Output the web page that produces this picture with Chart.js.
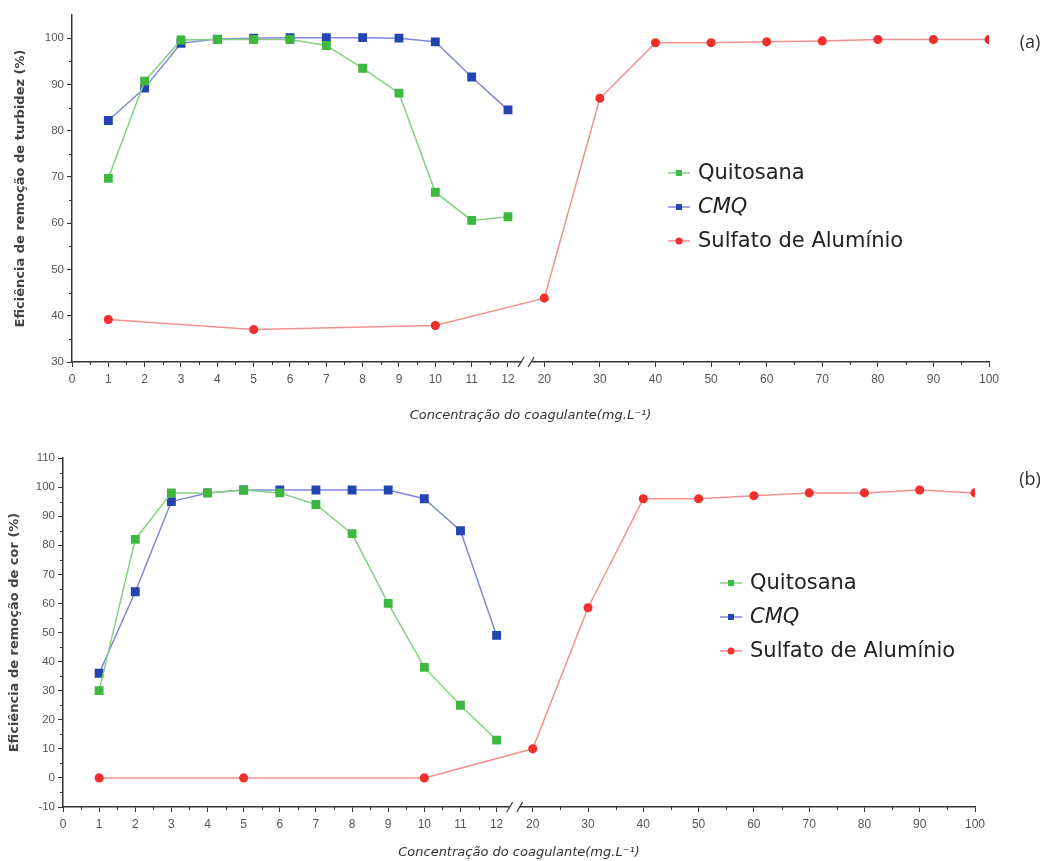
<!DOCTYPE html>
<html>
<head>
<meta charset="utf-8">
<script src="https://cdn.jsdelivr.net/npm/chart.js@4.4.1/dist/chart.umd.min.js"></script>
<style>
  body { margin: 0; background: #fff; }
  .panel { position: relative; width: 1047px; }
</style>
</head>
<body>
<div class="panel" style="height:430px"><canvas id="chart_a"></canvas></div>
<div class="panel" style="height:431px"><canvas id="chart_b"></canvas></div>
<script>
// doses (mg/L)
const doseCoag = [1, 2, 3, 4, 5, 6, 7, 8, 9, 10, 11, 12];
const doseSulfato = [1, 5, 10, 20, 30, 40, 50, 60, 70, 80, 90, 100];
const xTickLabels = [0, 1, 2, 3, 4, 5, 6, 7, 8, 9, 10, 11, 12, 20, 30, 40, 50, 60, 70, 80, 90, 100];

// (a) turbidez
const turbQuitosana = [69.7, 90.7, 99.6, 99.7, 99.7, 99.7, 98.4, 93.5, 88.1, 66.7, 60.6, 61.4];
const turbCMQ = [82.2, 89.2, 98.9, 99.8, 100, 100.1, 100.1, 100.1, 100, 99.2, 91.6, 84.5];
const turbSulfato = [39.2, 37.0, 37.9, 43.8, 87.0, 99.0, 99.0, 99.2, 99.4, 99.7, 99.7, 99.7];
const turbYTicks = [30, 40, 50, 60, 70, 80, 90, 100];

// (b) cor
const corQuitosana = [30, 82, 98, 98, 99, 98, 94, 84, 60, 38, 25, 13];
const corCMQ = [36, 64, 95, 98, 99, 99, 99, 99, 99, 96, 85, 49];
const corSulfato = [0, 0, 0, 10, 58.5, 96, 96, 97, 98, 98, 99, 98];
const corYTicks = [-10, 0, 10, 20, 30, 40, 50, 60, 70, 80, 90, 100, 110];

const seriesNames = ['Quitosana', 'CMQ', 'Sulfato de Alumínio'];

// broken x axis: 0-12 linear, then 20-100 compressed
const RIGHT_UNIT = 1.53;
function toAxis(x) {
  return x <= 12 ? x : 13 + (x - 20) / 10 * RIGHT_UNIT;
}

const GREEN = '#3fb83f', GREEN_L = '#86d086';
const BLUE = '#2444b0', BLUE_L = '#8288d8';
const RED = '#f0302c', RED_L = '#f39090';

function pts(xs, ys) {
  return xs.map((x, i) => ({ x: toAxis(x), y: ys[i] }));
}

const decorPlugin = {
  id: 'decor',
  afterDraw(chart, args, opts) {
    const ctx = chart.ctx;
    const xs = chart.scales.x, ys = chart.scales.y;
    const area = chart.chartArea;
    ctx.save();
    ctx.strokeStyle = '#333';
    ctx.lineWidth = 1;
    // minor ticks
    const minor = [];
    for (let v = 0.5; v < 12; v += 1) minor.push(v);
    for (let v = 25; v < 100; v += 10) minor.push(v);
    ctx.beginPath();
    minor.forEach(v => {
      const px = Math.round(xs.getPixelForValue(toAxis(v))) + 0.5;
      ctx.moveTo(px, area.bottom);
      ctx.lineTo(px, area.bottom + 3);
    });
    for (let v = opts.yMin + 5; v < opts.yMax; v += 10) {
      const py = Math.round(ys.getPixelForValue(v)) + 0.5;
      ctx.moveTo(area.left, py);
      ctx.lineTo(area.left - 3, py);
    }
    ctx.stroke();
    // axis break
    const bx = xs.getPixelForValue(12.5);
    const by = area.bottom;
    ctx.fillStyle = '#fff';
    ctx.fillRect(bx - 5, by - 2, 10, 4);
    ctx.lineWidth = 1.2;
    ctx.beginPath();
    ctx.moveTo(bx - 8, by + 5); ctx.lineTo(bx - 2, by - 5);
    ctx.moveTo(bx + 2, by + 5); ctx.lineTo(bx + 8, by - 5);
    ctx.stroke();
    // panel label
    ctx.fillStyle = '#333';
    ctx.font = '18px "Open Sans", sans-serif';
    ctx.textAlign = 'center';
    ctx.textBaseline = 'middle';
    ctx.fillText(opts.label, opts.labelX, opts.labelY);
    // legend
    ctx.textAlign = 'left';
    chart.data.datasets.forEach((ds, i) => {
      const ly = opts.legendY + i * 34;
      const lx = opts.legendX;
      ctx.strokeStyle = ds.borderColor;
      ctx.lineWidth = 1.5;
      ctx.beginPath();
      ctx.moveTo(lx, ly); ctx.lineTo(lx + 22, ly);
      ctx.stroke();
      ctx.fillStyle = ds.pointBackgroundColor;
      if (ds.pointStyle === 'rect') ctx.fillRect(lx + 8, ly - 3, 6, 6);
      else { ctx.beginPath(); ctx.arc(lx + 11, ly, 3.5, 0, Math.PI * 2); ctx.fill(); }
      ctx.fillStyle = '#222';
      ctx.font = (ds.label === 'CMQ' ? 'italic ' : '') + '21px "DejaVu Sans", sans-serif';
      ctx.fillText(ds.label, lx + 30, ly + 1);
    });
    ctx.restore();
  }
};

function makeChart(id, cfg) {
  const ctx = document.getElementById(id).getContext('2d');
  return new Chart(ctx, {
    type: 'line',
    data: {
      datasets: [
        { label: seriesNames[0], data: pts(doseCoag, cfg.quitosana), borderColor: GREEN_L, pointBackgroundColor: GREEN,
          pointBorderColor: GREEN, pointStyle: 'rect', pointRadius: 5.2, borderWidth: 1.5 },
        { label: seriesNames[1], data: pts(doseCoag, cfg.cmq), borderColor: BLUE_L, pointBackgroundColor: BLUE,
          pointBorderColor: BLUE, pointStyle: 'rect', pointRadius: 5.2, borderWidth: 1.5 },
        { label: seriesNames[2], data: pts(doseSulfato, cfg.sulfato), borderColor: RED_L, pointBackgroundColor: RED,
          pointBorderColor: RED, pointStyle: 'circle', pointRadius: 3.8, borderWidth: 1.5 }
      ]
    },
    options: {
      responsive: true,
      maintainAspectRatio: false,
      animation: false,
      layout: { padding: cfg.padding },
      plugins: {
        legend: { display: false },
        tooltip: { enabled: false },
        decor: cfg.decor
      },
      scales: {
        x: {
          type: 'linear',
          min: 0,
          max: toAxis(100),
          afterBuildTicks: s => { s.ticks = xTickLabels.map(v => ({ value: toAxis(v) })); },
          afterFit: s => { s.height = cfg.xHeight; },
          grid: { drawOnChartArea: false, tickLength: 5, color: '#333' },
          border: { color: '#333', width: 1.5 },
          ticks: {
            autoSkip: false, maxRotation: 0, padding: 5, color: '#555',
            font: { family: 'Liberation Sans', size: 12 },
            callback: (v, i) => xTickLabels[i]
          },
          title: {
            display: true,
            text: 'Concentração do coagulante(mg.L⁻¹)',
            color: '#333',
            padding: { top: 0, bottom: cfg.xTitlePad },
            font: { family: 'DejaVu Sans', size: 13, style: 'italic' }
          }
        },
        y: {
          min: cfg.yMin,
          max: cfg.yMax,
          afterBuildTicks: s => { s.ticks = cfg.yTicks.map(v => ({ value: v })); },
          afterFit: s => { s.width = cfg.yWidth; },
          grid: { drawOnChartArea: false, tickLength: 5, color: '#333' },
          border: { color: '#333', width: 1.5 },
          ticks: { padding: 3, color: '#555', font: { family: 'Liberation Sans', size: 11.5 } },
          title: {
            display: true,
            text: cfg.yTitle,
            color: '#444',
            padding: 0,
            font: { family: 'DejaVu Sans', size: 13, weight: 'bold' }
          }
        }
      }
    },
    plugins: [decorPlugin]
  });
}

makeChart('chart_a', {
  quitosana: turbQuitosana, cmq: turbCMQ, sulfato: turbSulfato,
  yMin: 30, yMax: 105, yTicks: turbYTicks,
  yTitle: 'Eficiência de remoção de turbidez (%)',
  padding: { left: 13, right: 58, top: 15, bottom: 0 },
  yWidth: 59, xHeight: 68, xTitlePad: 7,
  decor: { label: '(a)', labelX: 1030, labelY: 43, legendX: 668, legendY: 173, yMin: 30, yMax: 105 }
});

makeChart('chart_b', {
  quitosana: corQuitosana, cmq: corCMQ, sulfato: corSulfato,
  yMin: -10, yMax: 110, yTicks: corYTicks,
  yTitle: 'Eficiência de remoção de cor (%)',
  padding: { left: 7, right: 72, top: 28, bottom: 0 },
  yWidth: 56, xHeight: 54, xTitlePad: 1,
  decor: { label: '(b)', labelX: 1030, labelY: 480 - 430, legendX: 720, legendY: 583 - 430, yMin: -10, yMax: 110 }
});
</script>
</body>
</html>
